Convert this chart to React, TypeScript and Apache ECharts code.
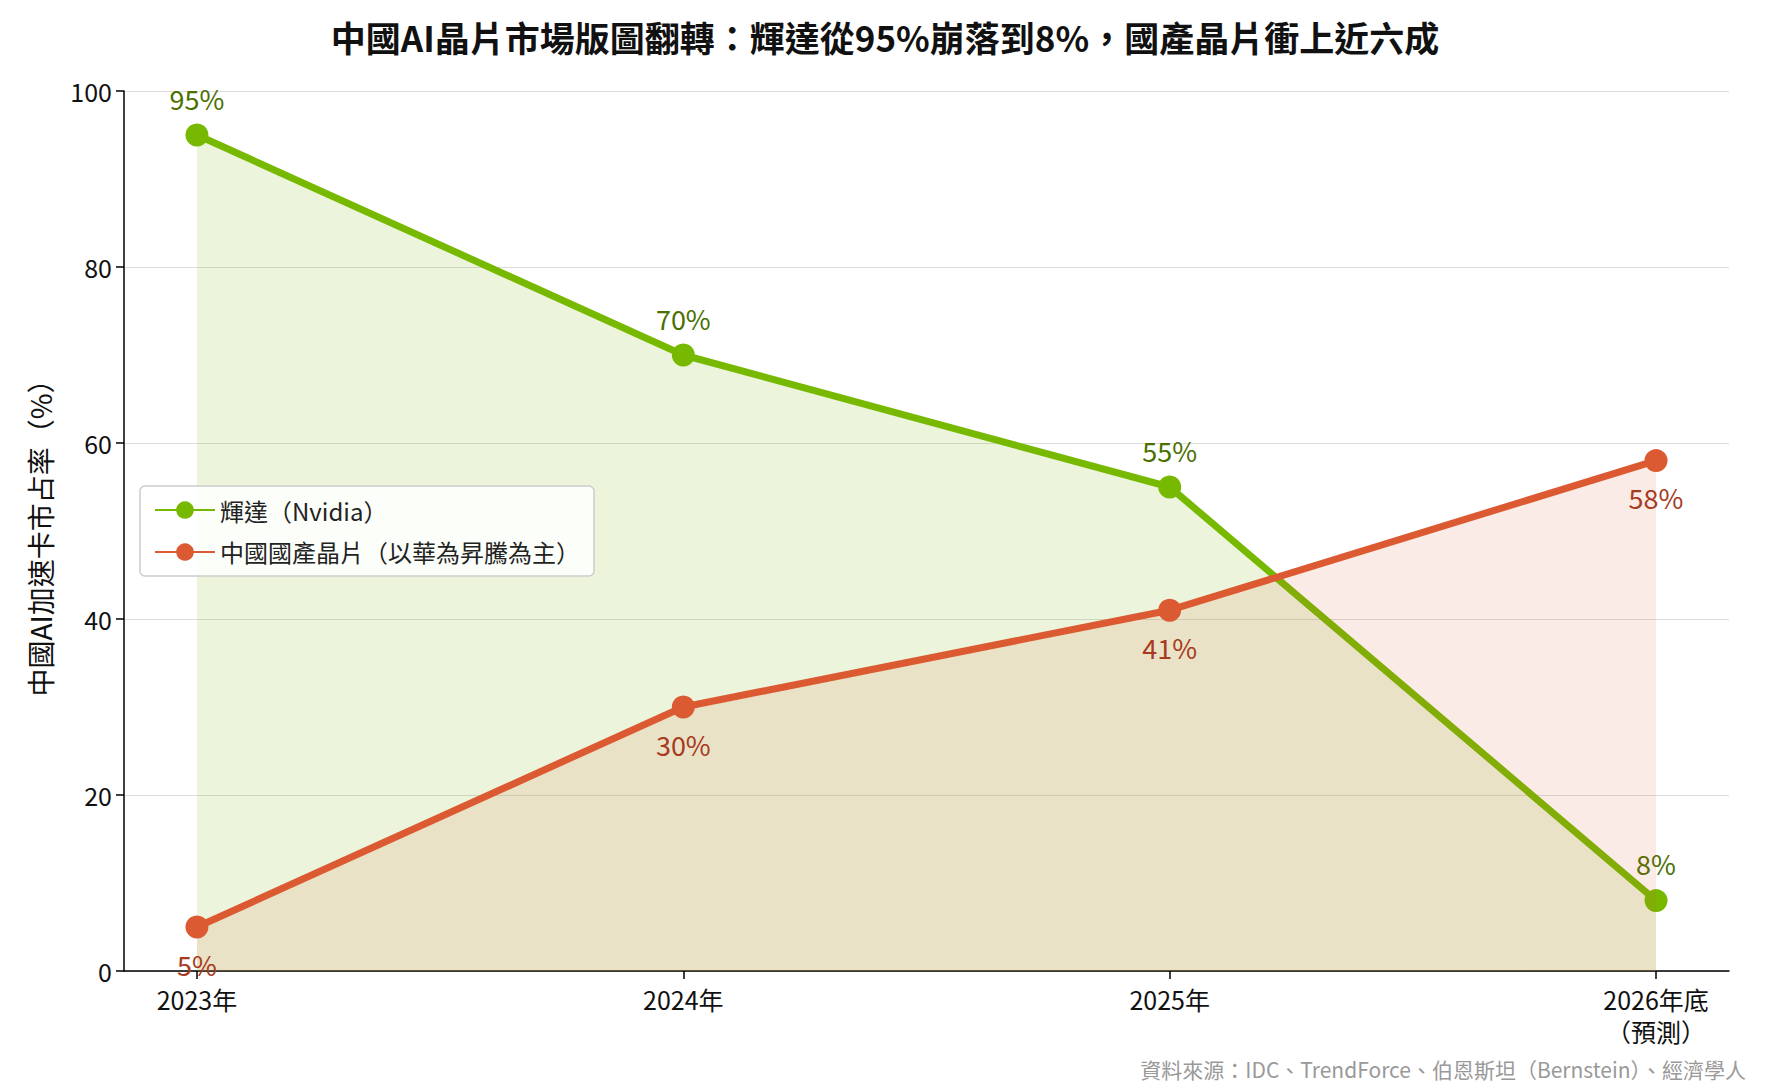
import { useEffect, useRef } from 'react'
import * as echarts from 'echarts'

// ─── 數據 ───
const years = ['2023年', '2024年', '2025年', '2026年底\n（預測）']
const nvidia = [95, 70, 55, 8]
const domestic = [5, 30, 41, 58]

const GREEN = '#76b900'
const RED = '#dc5a32'
const FONT = '"Noto Sans CJK TC", "Noto Sans", sans-serif'

export default function App() {
  const ref = useRef<HTMLDivElement>(null)

  useEffect(() => {
    if (!ref.current) return
    const chart = echarts.init(ref.current, null, { renderer: 'svg' })
    const xs = years.map((_, i) => i)

    chart.setOption({
      animation: false,
      textStyle: { fontFamily: FONT },
      title: {
        text: '中國AI晶片市場版圖翻轉：輝達從95%崩落到8%，國產晶片衝上近六成',
        left: 'center', top: 6,
        textStyle: { fontSize: 35, fontWeight: 'bold', color: '#111', fontFamily: FONT },
      },
      grid: { left: 116, right: 33, top: 83, bottom: 119 },
      legend: {
        orient: 'vertical', left: 132, top: 478,
        backgroundColor: 'rgba(255,255,255,0.85)', borderColor: '#ccc', borderWidth: 1.5, borderRadius: 5,
        padding: [12, 14], itemGap: 18, itemWidth: 60, itemHeight: 22,
        textStyle: { fontSize: 24, color: '#222', fontFamily: FONT },
        data: ['輝達（Nvidia）', '中國國產晶片（以華為昇騰為主）'],
      },
      xAxis: {
        type: 'value', min: -0.15, max: 3.15,
        splitLine: { show: false },
        axisLine: { lineStyle: { color: '#000', width: 1.5 } },
        axisTick: { show: true, customValues: xs, length: 8, lineStyle: { color: '#000', width: 1.5 } },
        axisLabel: {
          customValues: xs, fontSize: 25, color: '#111', margin: 12, lineHeight: 32,
          formatter: (v: number) => years[Math.round(v)] ?? '',
        },
      },
      yAxis: {
        type: 'value', min: 0, max: 100, interval: 20,
        name: '中國AI加速卡市占率（%）', nameLocation: 'middle', nameGap: 70,
        nameTextStyle: { fontSize: 28, color: '#111' },
        axisLine: { show: true, onZero: false, lineStyle: { color: '#000', width: 1.5 } },
        axisTick: { show: true, length: 8, lineStyle: { color: '#000', width: 1.5 } },
        axisLabel: { fontSize: 25, color: '#111', margin: 12 },
        splitLine: { lineStyle: { color: '#dcdcdc', width: 1.2 } },
      },
      series: [
        {
          name: '輝達（Nvidia）', type: 'line',
          data: nvidia.map((v, i) => [i, v]),
          symbol: 'circle', symbolSize: 23,
          lineStyle: { color: GREEN, width: 7 },
          itemStyle: { color: GREEN },
          areaStyle: { color: GREEN, opacity: 0.14 },
          label: {
            show: true, position: 'top', distance: 12, fontSize: 27, color: '#4a7000',
            formatter: (p: any) => p.value[1] + '%',
          },
          z: 3,
        },
        {
          name: '中國國產晶片（以華為昇騰為主）', type: 'line',
          data: domestic.map((v, i) => [i, v]),
          symbol: 'circle', symbolSize: 23,
          lineStyle: { color: RED, width: 7 },
          itemStyle: { color: RED },
          areaStyle: { color: RED, opacity: 0.12 },
          label: {
            show: true, position: 'bottom', distance: 12, fontSize: 27, color: '#a83a1e',
            formatter: (p: any) => p.value[1] + '%',
          },
          z: 4,
        },
      ],
      graphic: [
        {
          type: 'text', right: 16, top: 1050,
          style: {
            text: '資料來源：IDC、TrendForce、伯恩斯坦（Bernstein）、經濟學人',
            fontSize: 21, fill: '#999', fontFamily: FONT,
          },
        },
      ],
    })

    return () => chart.dispose()
  }, [])

  return <div ref={ref} style={{ width: 1754, height: 1082 }} />
}
